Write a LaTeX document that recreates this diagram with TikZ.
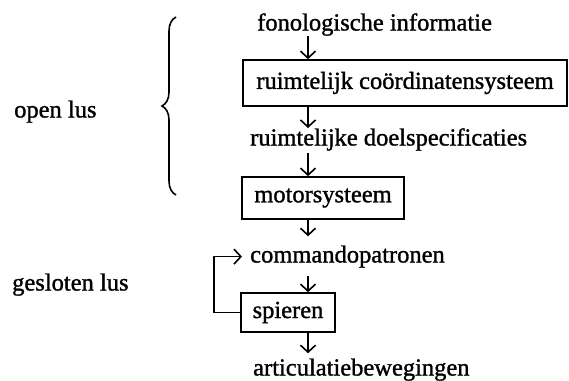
\documentclass[tikz,border=0pt]{standalone}
\usepackage{fontspec}
\setmainfont{Liberation Serif}
\newfontface\reffont{Liberation Serif}[FakeBold=1.2]
\usetikzlibrary{arrows.meta,decorations.pathreplacing}
\begin{document}
\begin{tikzpicture}[x=1pt,y=-1pt,
  txt/.style={inner sep=0pt,anchor=base west,font=\reffont\fontsize{24.5}{28}\selectfont},
  blk/.style={draw,line width=1.6pt,inner sep=0pt,font=\reffont\fontsize{24.5}{28}\selectfont},
  arr/.style={line width=1.6pt,-{Straight Barb[length=7pt,width=15pt,line width=1.6pt]}}]
\useasboundingbox (0,0) rectangle (569,380);
\node[txt] (open) at (14,117.5) {open lus};
\node[txt] (gesl) at (12,290.5) {gesloten lus};
\node[txt] (fon) at (257,30.5) {fonologische informatie};
\node[blk,minimum width=324pt,minimum height=46pt] (rc) at (405,83) {ruimtelijk coördinatensysteem};
\node[txt] (doel) at (250,145.5) {ruimtelijke doelspecificaties};
\node[blk,minimum width=162pt,minimum height=42pt] (mot) at (323,198) {motorsysteem};
\node[txt] (cmd) at (250,262.5) {commandopatronen};
\node[blk,minimum width=94pt,minimum height=39pt] (sp) at (288,312.5) {spieren};
\node[txt] (art) at (253,375.5) {articulatiebewegingen};
\coordinate (ca) at (308,0);
\draw[arr] (fon.south -| ca) -- (rc.north -| ca);
\draw[arr] (rc.south -| ca) -- (doel.north -| ca);
\draw[arr,shorten <=2pt] (doel.south -| ca) -- (mot.north -| ca);
\draw[arr,shorten >=9pt] (mot.south -| ca) -- (cmd.north -| ca);
\draw[arr,shorten <=8pt] (cmd.south -| ca) -- (sp.north -| ca);
\draw[arr,shorten >=5pt] (sp.south -| ca) -- (art.north -| ca);
\draw[arr,shorten >=8pt] (sp.west) -- ++(-26,0) |- (cmd.west);
\coordinate (bt) at (176,17);
\coordinate (bb) at (176,195);
\draw[line width=1.6pt,decorate,decoration={brace,amplitude=14pt}] (bb) -- (bt);
\end{tikzpicture}
\end{document}
